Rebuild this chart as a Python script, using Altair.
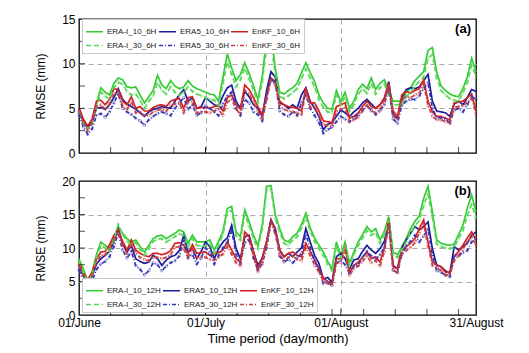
import altair as alt
import pandas as pd

days = list(range(92))

# ---------- panel (a) : 6H ----------
names_a = ["ERA-I_10_6H", "ERA5_10_6H", "EnKF_10_6H", "ERA-I_30_6H", "ERA5_30_6H", "EnKF_30_6H"]

erai_10_6h = [4.7, 3.6, 3.0, 3.6, 5.5, 7.3, 6.8, 6.5, 7.8, 8.4,
              8.2, 7.4, 7.3, 7.4, 6.5, 5.6, 6.3, 7.0, 8.7, 7.6,
              7.2, 8.1, 7.5, 7.2, 7.4, 8.1, 7.5, 7.2, 7.0, 6.8,
              6.6, 6.5, 5.8, 8.5, 11.1, 9.5, 8.1, 8.8, 10.1, 8.9,
              7.5, 6.0, 8.5, 12.8, 13.3, 9.5, 6.8, 6.6, 7.0, 7.3,
              7.8, 9.0, 10.1, 9.0, 8.0, 6.5, 5.6, 5.0, 4.9, 7.0,
              5.8, 6.8, 5.0, 5.8, 7.1, 7.7, 7.2, 8.4, 7.1, 7.8,
              8.2, 7.0, 5.8, 5.8, 5.8, 6.8, 7.3, 8.1, 8.6, 9.1,
              11.5, 11.8, 9.0, 7.5, 7.0, 6.6, 6.4, 6.3, 7.2, 8.5,
              10.6, 9.1]
era5_10_6h = [5.0, 3.5, 2.8, 3.5, 5.0, 5.1, 4.9, 5.4, 6.2, 7.2,
              6.0, 5.5, 5.2, 4.9, 4.5, 4.1, 4.6, 4.9, 5.0, 5.2,
              5.1, 5.0, 5.8, 6.5, 7.1, 5.8, 6.2, 5.0, 5.2, 6.2,
              5.8, 5.4, 5.2, 6.4, 7.3, 7.6, 5.8, 5.0, 6.9, 6.3,
              5.4, 5.0, 4.1, 7.0, 9.1, 8.5, 5.6, 5.4, 5.0, 5.4,
              5.0, 6.5, 7.3, 5.8, 5.0, 4.1, 2.6, 3.2, 3.4, 4.1,
              4.8, 4.5, 4.1, 4.6, 5.0, 5.6, 6.0, 5.5, 5.0, 5.4,
              6.0, 8.0, 4.3, 3.9, 6.2, 7.1, 7.3, 7.2, 7.4, 8.1,
              8.8, 5.8, 4.7, 4.6, 4.5, 4.1, 5.5, 5.8, 5.4, 6.2,
              7.1, 6.9]
enkf_10_6h = [5.1, 3.8, 3.0, 3.8, 5.8, 5.9, 5.4, 6.0, 7.2, 7.1,
              5.8, 5.4, 6.3, 5.0, 5.2, 4.7, 4.7, 5.1, 5.3, 5.4,
              5.2, 5.8, 6.0, 6.1, 5.0, 6.2, 6.3, 5.0, 5.1, 5.1,
              5.0, 5.2, 5.4, 4.7, 6.2, 6.5, 5.4, 4.9, 7.6, 7.1,
              6.2, 5.2, 4.3, 6.5, 8.4, 8.0, 5.8, 5.4, 5.2, 5.1,
              5.0, 4.7, 7.3, 5.6, 5.6, 4.7, 3.6, 3.5, 3.4, 5.2,
              5.4, 5.6, 3.9, 4.1, 4.5, 5.2, 5.8, 5.2, 5.0, 5.4,
              6.2, 7.8, 4.7, 4.1, 6.5, 6.9, 6.7, 7.0, 7.2, 8.2,
              5.8, 4.6, 4.1, 4.1, 3.9, 3.7, 5.6, 5.7, 5.8, 6.2,
              6.6, 4.7]
erai_30_6h = [4.5, 3.3, 2.7, 3.3, 5.0, 6.8, 6.4, 6.0, 7.3, 7.9,
              7.7, 6.9, 6.5, 6.6, 5.9, 5.0, 5.8, 6.4, 7.9, 7.0,
              6.6, 7.4, 6.8, 6.5, 6.8, 7.4, 6.9, 6.6, 6.4, 6.2,
              6.0, 5.9, 5.3, 7.8, 10.2, 8.8, 7.4, 8.2, 9.5, 8.3,
              7.0, 5.6, 7.9, 11.8, 12.3, 8.8, 6.3, 6.1, 6.4, 6.8,
              7.2, 8.3, 9.4, 8.4, 7.4, 6.0, 5.1, 4.6, 4.5, 6.5,
              5.4, 6.3, 4.7, 5.4, 6.6, 7.2, 6.7, 7.8, 6.6, 7.3,
              7.7, 6.5, 5.4, 5.4, 5.4, 6.3, 6.8, 7.5, 8.0, 8.5,
              10.6, 11.0, 8.4, 7.0, 6.5, 6.1, 5.9, 5.8, 6.7, 7.9,
              9.8, 8.6]
era5_30_6h = [4.3, 2.9, 2.1, 2.7, 4.2, 4.4, 4.0, 4.6, 5.6, 6.6,
              5.0, 4.6, 4.3, 3.9, 3.6, 3.1, 3.7, 4.1, 4.4, 4.6,
              4.4, 4.2, 5.0, 5.6, 6.2, 4.9, 5.4, 4.2, 4.5, 5.3,
              5.0, 4.6, 4.2, 5.5, 6.4, 6.8, 5.0, 4.2, 6.0, 5.6,
              4.6, 4.3, 3.6, 6.2, 8.3, 7.8, 4.7, 4.3, 4.1, 4.6,
              4.2, 5.6, 6.5, 5.0, 4.2, 3.4, 2.2, 2.6, 2.9, 3.5,
              4.1, 3.8, 3.5, 3.9, 4.3, 4.8, 5.3, 4.8, 4.3, 4.7,
              5.4, 7.2, 3.8, 3.3, 5.3, 5.8, 6.0, 6.0, 6.4, 7.2,
              7.9, 5.0, 4.0, 3.9, 3.8, 3.4, 4.8, 5.0, 4.6, 5.4,
              6.3, 6.0]
enkf_30_6h = [4.7, 3.4, 2.5, 3.3, 5.2, 5.4, 4.9, 5.5, 6.7, 6.6,
              5.3, 4.9, 5.7, 4.5, 4.6, 4.2, 4.2, 4.6, 4.8, 4.9,
              4.7, 5.3, 5.5, 5.6, 4.5, 5.7, 5.8, 4.5, 4.6, 4.6,
              4.5, 4.7, 4.9, 4.2, 5.7, 6.0, 4.9, 4.4, 7.0, 6.6,
              5.7, 4.7, 3.8, 6.0, 8.1, 7.6, 5.3, 4.9, 4.7, 4.6,
              4.5, 4.3, 6.8, 5.1, 5.1, 4.2, 3.2, 3.1, 3.0, 4.7,
              4.9, 5.1, 3.5, 3.7, 4.0, 4.7, 5.3, 4.7, 4.5, 4.9,
              5.7, 7.4, 4.2, 3.7, 5.9, 6.3, 6.2, 6.5, 6.7, 7.7,
              5.3, 4.1, 3.7, 3.7, 3.5, 3.3, 5.1, 5.2, 5.3, 5.7,
              6.1, 4.3]

# ---------- panel (b) : 12H ----------
names_b = ["ERA-I_10_12H", "ERA5_10_12H", "EnKF_10_12H", "ERA-I_30_12H", "ERA5_30_12H", "EnKF_30_12H"]

erai_10_12h = [8.4, 6.8, 5.2, 6.4, 9.0, 10.9, 10.4, 9.9, 11.5, 13.2,
               12.2, 11.4, 10.9, 11.2, 10.2, 9.4, 10.4, 11.4, 11.8, 11.9,
               11.4, 11.8, 12.2, 12.7, 12.4, 10.7, 11.9, 10.9, 10.9, 10.9,
               11.2, 9.7, 11.0, 12.5, 15.9, 16.2, 12.4, 11.7, 15.7, 13.9,
               11.9, 10.4, 13.4, 19.2, 19.3, 15.0, 12.9, 11.2, 10.9, 11.7,
               12.2, 13.5, 15.2, 13.0, 11.5, 10.4, 9.4, 8.0, 6.9, 10.9,
               8.9, 10.9, 7.7, 9.4, 10.9, 12.0, 13.2, 12.4, 12.9, 11.2,
               12.5, 14.7, 9.4, 9.0, 10.2, 11.4, 12.9, 14.0, 14.8, 17.4,
               19.2, 15.4, 11.2, 10.7, 10.5, 10.4, 10.6, 12.0, 13.4, 15.9,
               17.9, 15.4]
era5_10_12h = [7.4, 5.8, 4.9, 5.8, 7.6, 8.4, 8.9, 9.5, 10.9, 12.9,
               10.6, 9.4, 10.4, 8.4, 8.0, 7.7, 7.9, 8.9, 8.4, 7.4,
               8.2, 8.7, 8.9, 9.6, 11.9, 9.4, 9.9, 8.4, 9.5, 10.9,
               10.2, 8.4, 9.9, 10.9, 11.5, 13.4, 9.9, 8.4, 11.7, 11.9,
               9.4, 7.4, 8.5, 10.9, 14.2, 12.9, 9.7, 8.7, 9.2, 8.7,
               9.4, 10.0, 12.9, 10.9, 8.9, 7.7, 5.4, 5.6, 4.9, 8.7,
               9.2, 8.4, 6.9, 8.2, 8.4, 9.5, 10.4, 9.7, 9.2, 9.9,
               11.0, 13.9, 7.4, 6.9, 10.0, 11.2, 12.2, 13.2, 12.7, 13.2,
               13.9, 9.9, 7.4, 7.2, 6.6, 6.2, 10.2, 9.7, 10.2, 10.7,
               11.9, 12.4]
enkf_10_12h = [7.9, 6.3, 5.2, 6.4, 8.4, 9.4, 9.5, 10.5, 11.9, 12.7,
               11.0, 9.7, 11.2, 9.7, 9.2, 8.9, 8.7, 9.2, 9.2, 9.0,
               9.2, 9.6, 10.7, 10.8, 10.4, 9.2, 10.5, 9.2, 9.3, 9.4,
               8.9, 9.2, 9.3, 9.7, 10.9, 9.7, 8.4, 7.9, 12.4, 11.7,
               9.5, 6.9, 8.5, 11.0, 14.2, 12.7, 9.7, 8.7, 9.2, 9.4,
               8.9, 8.7, 10.7, 9.5, 8.2, 6.9, 5.5, 5.0, 4.7, 8.4,
               8.4, 10.2, 6.4, 7.4, 7.9, 8.6, 9.4, 8.4, 8.7, 7.9,
               10.0, 14.2, 7.2, 6.9, 9.7, 10.2, 10.7, 11.4, 12.9, 14.2,
               10.9, 7.9, 7.5, 7.2, 6.4, 6.4, 8.7, 9.5, 10.4, 11.5,
               12.4, 11.2]
erai_30_12h = [8.0, 6.4, 4.9, 6.0, 8.6, 10.4, 10.0, 9.5, 11.2, 13.5,
               12.0, 11.0, 10.5, 10.8, 9.8, 8.9, 9.9, 11.0, 11.3, 11.4,
               10.9, 11.3, 11.7, 12.1, 11.9, 10.2, 11.4, 10.4, 10.3, 10.3,
               10.6, 9.2, 10.5, 12.0, 15.4, 15.6, 11.8, 11.2, 15.0, 13.3,
               11.4, 9.9, 12.8, 18.7, 18.9, 14.4, 12.4, 10.7, 10.4, 11.2,
               11.7, 13.0, 14.6, 12.5, 11.0, 9.9, 8.9, 7.6, 6.6, 10.3,
               8.5, 10.4, 7.4, 9.0, 10.4, 11.5, 12.6, 11.9, 12.3, 10.7,
               12.0, 14.1, 9.0, 8.6, 9.8, 10.9, 12.3, 13.3, 14.1, 16.4,
               18.0, 14.6, 10.6, 10.2, 10.0, 9.9, 10.1, 11.4, 12.6, 14.8,
               16.5, 14.5]
era5_30_12h = [6.7, 5.1, 4.4, 5.0, 6.8, 7.6, 8.0, 8.7, 10.2, 12.2,
               9.7, 8.5, 9.5, 7.4, 6.8, 6.0, 6.6, 7.8, 7.5, 6.6,
               7.3, 7.8, 8.1, 8.8, 11.2, 8.5, 9.0, 7.6, 8.5, 10.0,
               9.3, 7.6, 8.9, 10.0, 10.8, 12.6, 9.1, 7.7, 10.8, 11.2,
               8.5, 6.7, 7.6, 10.0, 13.8, 12.4, 8.8, 7.9, 8.3, 7.8,
               8.5, 9.2, 12.0, 10.0, 8.0, 6.8, 4.7, 4.9, 4.4, 7.7,
               8.2, 7.5, 6.2, 7.3, 7.5, 8.6, 9.5, 8.8, 8.3, 9.0,
               10.1, 13.2, 6.7, 6.3, 9.0, 10.3, 11.0, 11.9, 10.9, 11.8,
               12.8, 9.0, 6.6, 6.4, 5.9, 5.7, 8.9, 8.8, 9.3, 9.6,
               10.9, 11.4]
enkf_30_12h = [7.4, 5.9, 4.8, 6.0, 7.9, 8.9, 9.0, 9.9, 11.3, 12.2,
               10.4, 9.2, 10.6, 9.2, 8.6, 8.3, 8.1, 8.6, 8.6, 8.4,
               8.6, 9.0, 10.1, 10.2, 9.8, 8.6, 9.9, 8.6, 8.7, 8.6,
               8.3, 8.2, 8.6, 9.1, 10.2, 9.1, 7.8, 7.3, 11.7, 11.1,
               8.9, 6.4, 7.9, 10.4, 13.7, 12.1, 9.1, 8.1, 8.6, 8.8,
               8.3, 8.1, 10.0, 8.9, 7.4, 6.4, 5.1, 4.7, 4.5, 7.8,
               7.8, 9.6, 5.9, 6.9, 7.3, 8.0, 8.8, 7.8, 8.1, 7.3,
               9.4, 13.6, 6.7, 6.4, 9.1, 9.6, 10.1, 10.8, 12.2, 13.5,
               10.3, 7.4, 7.0, 6.7, 6.0, 6.0, 8.1, 8.9, 9.8, 10.9,
               11.7, 10.5]

# axis ticks
major_days = [0, 29, 60, 91]
major_labels = ["01/June", "01/July", "01/August", "31/August"]
minor_days = [7.25 * n for n in range(1, 13)]

COLORS = ["#33cc33", "#1c1c9c", "#d42222", "#5bd65b", "#3535bb", "#cc4040"]
DASHES = [[1, 0], [1, 0], [1, 0], [5, 3], [4, 2, 1, 2], [4, 2, 1, 2]]
FONT = "Liberation Sans"
W, H = 397, 134


def table(names, series):
    rows = []
    for n, vals in zip(names, series):
        assert len(vals) == len(days), n
        for d, v in zip(days, vals):
            rows.append({"day": d, "rmse": v, "series": n})
    return pd.DataFrame(rows)


label_expr = " : ".join(
    f"datum.value == {d} ? '{l}'" for d, l in zip(major_days, major_labels)
) + " : ''"


def panel(names, series, ymax, tag, bottom, legend_y):
    df = table(names, series)
    xs = alt.Scale(domain=[0, 91], nice=False, zero=False)
    ys = alt.Scale(domain=[0, ymax], nice=False)
    xaxis = alt.Axis(values=major_days, labelExpr=label_expr, labels=bottom,
                     ticks=False, domain=False, grid=True, gridDash=[5, 4],
                     gridColor="#a8a8a8", gridWidth=1,
                     gridOpacity={"condition": {"test": "datum.value == 0 || datum.value == 91", "value": 0}, "value": 1},
                     labelFlush=False, labelFontSize=12, labelPadding=2,
                     titleFontSize=13, titlePadding=4, labelFont=FONT, titleFont=FONT,
                     titleFontWeight="normal", labelColor="black", titleColor="black")
    yaxis = alt.Axis(values=list(range(0, ymax + 1, 5)), title="RMSE (mm)",
                     ticks=False, domain=False, grid=True, gridDash=[5, 4],
                     gridColor="#a8a8a8", gridWidth=1,
                     gridOpacity={"condition": {"test": f"datum.value == 0 || datum.value == {ymax}", "value": 0}, "value": 1},
                     labelFontSize=12, labelPadding=4, titleFontSize=12, titlePadding=14,
                     labelFont=FONT, titleFont=FONT, titleFontWeight="normal",
                     labelColor="black", titleColor="black")
    xtitle = "Time period (day/month)" if bottom else None
    leg = alt.Legend(orient="none", legendX=3, legendY=legend_y, direction="horizontal",
                     columns=3, symbolType="stroke", symbolSize=289, symbolStrokeWidth=1.6,
                     labelFontSize=8, labelFont=FONT, labelColor="#222222",
                     strokeColor="#c8c8c8", fillColor="white", padding=3,
                     rowPadding=-3, columnPadding=-2, labelOffset=3)
    cscale = alt.Scale(domain=names, range=COLORS)
    lines = alt.Chart(df).mark_line(strokeWidth=1.7).encode(
        x=alt.X("day:Q", scale=xs, axis=xaxis, title=xtitle),
        y=alt.Y("rmse:Q", scale=ys, axis=yaxis),
        color=alt.Color("series:N", scale=cscale, legend=leg, title=None),
        strokeDash=alt.StrokeDash("series:N", scale=alt.Scale(domain=names, range=DASHES), legend=leg, title=None),
    )
    pts = alt.Chart(df[df["series"].isin(names[3:])]).mark_point(
        shape="circle", filled=False, size=6, strokeWidth=0.6, opacity=0.8
    ).encode(
        x=alt.X("day:Q", scale=xs, axis=xaxis, title=xtitle),
        y=alt.Y("rmse:Q", scale=ys, axis=yaxis),
        color=alt.Color("series:N", scale=cscale, legend=None),
    )
    xt = pd.DataFrame({"day": minor_days + major_days[1:3]})
    xticks = alt.Chart(xt).mark_tick(orient="vertical", size=6, thickness=1, color="black").encode(
        x=alt.X("day:Q", scale=xs, axis=xaxis, title=xtitle),
        y=alt.value(H - 3),
    )
    yt = pd.DataFrame({"rmse": [v / 2 for v in range(5, 2 * ymax, 5)]})
    yticks = alt.Chart(yt).mark_tick(orient="horizontal", size=6, thickness=1, color="black").encode(
        y=alt.Y("rmse:Q", scale=ys, axis=yaxis),
        x=alt.value(3),
    )
    tag_mark = alt.Chart(pd.DataFrame({"t": [tag]})).mark_text(
        font=FONT, fontSize=13, fontWeight="bold", align="right", baseline="middle", color="black"
    ).encode(text="t:N", x=alt.value(W - 5), y=alt.value(10))
    return alt.layer(lines, pts, xticks, yticks, tag_mark).properties(width=W, height=H)


pa = panel(names_a, [erai_10_6h, era5_10_6h, enkf_10_6h, erai_30_6h, era5_30_6h, enkf_30_6h],
           15, "(a)", False, 0)
pb = panel(names_b, [erai_10_12h, era5_10_12h, enkf_10_12h, erai_30_12h, era5_30_12h, enkf_30_12h],
           20, "(b)", True, 97)

chart = alt.vconcat(pa, pb, spacing=14).resolve_scale(
    color="independent", strokeDash="independent"
).configure_view(stroke="black", strokeWidth=1.3).properties(
    padding={"left": 34, "top": 12, "right": 20, "bottom": 6},
    background="white",
)

chart.save("out.html", embed_options={"renderer": "svg", "actions": False})
